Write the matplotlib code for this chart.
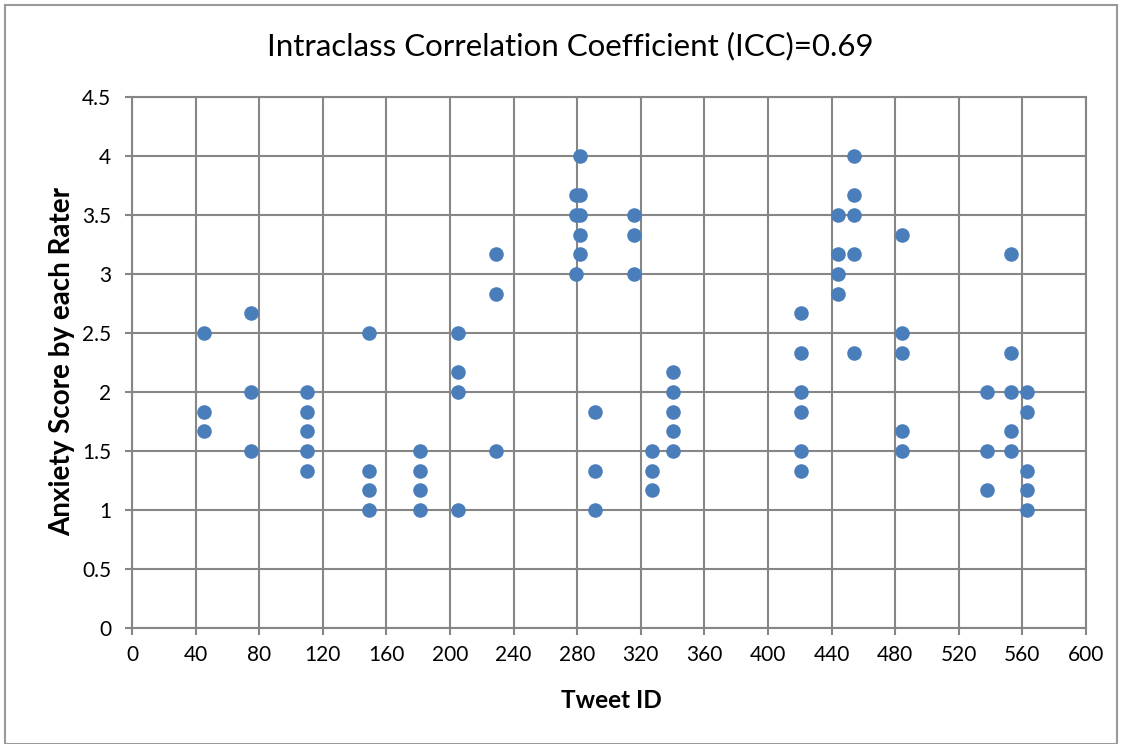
import matplotlib
matplotlib.use("Agg")
import matplotlib.pyplot as plt
from matplotlib.patches import Rectangle

plt.rcParams['font.family'] = ['Lato', 'DejaVu Sans']

tweet_ids = [45, 45, 45,
             75, 75, 75,
             110, 110, 110, 110, 110,
             149, 149, 149, 149,
             181, 181, 181, 181,
             205, 205, 205, 205,
             229, 229, 229,
             279, 279, 279,
             282, 282, 282, 282, 282,
             291, 291, 291,
             316, 316, 316,
             327, 327, 327,
             340, 340, 340, 340, 340,
             421, 421, 421, 421, 421, 421,
             444, 444, 444, 444,
             454, 454, 454, 454, 454,
             484, 484, 484, 484, 484,
             538, 538, 538,
             553, 553, 553, 553, 553,
             563, 563, 563, 563, 563]
scores = [2.5, 1.833, 1.667,
          2.667, 2.0, 1.5,
          2.0, 1.833, 1.667, 1.5, 1.333,
          2.5, 1.333, 1.167, 1.0,
          1.5, 1.333, 1.167, 1.0,
          2.5, 2.167, 2.0, 1.0,
          3.167, 2.833, 1.5,
          3.667, 3.5, 3.0,
          4.0, 3.667, 3.5, 3.333, 3.167,
          1.833, 1.333, 1.0,
          3.5, 3.333, 3.0,
          1.5, 1.333, 1.167,
          2.167, 2.0, 1.833, 1.667, 1.5,
          2.667, 2.333, 2.0, 1.833, 1.5, 1.333,
          3.5, 3.167, 3.0, 2.833,
          4.0, 3.667, 3.5, 3.167, 2.333,
          3.333, 2.5, 2.333, 1.667, 1.5,
          2.0, 1.5, 1.167,
          3.167, 2.333, 2.0, 1.667, 1.5,
          2.0, 1.833, 1.333, 1.167, 1.0]

x_ticks = list(range(0, 601, 40))
y_ticks = [0, 0.5, 1, 1.5, 2, 2.5, 3, 3.5, 4, 4.5]
y_tick_labels = ['0', '0.5', '1', '1.5', '2', '2.5', '3', '3.5', '4', '4.5']

fig = plt.figure(figsize=(11.22, 7.44), dpi=100)
ax = fig.add_axes([132/1122, 1-628/744, (1086-132)/1122, (628-97)/744])

grid_c = '#868686'
ax.scatter(tweet_ids, scores, s=110, color='#4a7ebb', zorder=3, linewidths=0)
ax.set_xlim(0, 600)
ax.set_ylim(0, 4.5)
ax.set_xticks(x_ticks)
ax.set_yticks(y_ticks)
ax.set_yticklabels(y_tick_labels)
ax.grid(True, color=grid_c, linewidth=1.5, zorder=0)
ax.set_axisbelow(True)
for s in ax.spines.values():
    s.set_color(grid_c)
    s.set_linewidth(1.5)
ax.tick_params(axis='both', colors=grid_c, length=5, width=1.5, labelsize=15,
               labelcolor='black')
ax.tick_params(axis='x', pad=7)
ax.tick_params(axis='y', pad=10)

fig.text(611/1122, 1-700/744, 'Tweet ID', ha='center', va='center',
         fontsize=17.5, fontweight='bold')
fig.text(62/1122, 1-361/744, 'Anxiety Score by each Rater', ha='center', va='center',
         rotation=90, fontsize=20, fontweight='bold')
fig.text(570/1122, 1-46/744, 'Intraclass Correlation Coefficient (ICC)=0.69',
         ha='center', va='center', fontsize=22.5)

fig.patches.append(Rectangle((5/1122, 0), 1112/1122, 1-5/744, transform=fig.transFigure,
                             fill=False, edgecolor='#9a9a9a', linewidth=1.5))

fig.savefig('out.png', dpi=100)
